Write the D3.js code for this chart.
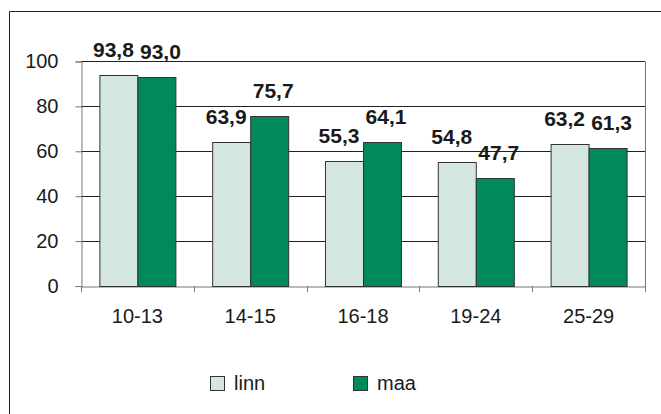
<!DOCTYPE html>
<html>
<head>
<meta charset="utf-8">
<script src="https://cdn.jsdelivr.net/npm/d3@7"></script>
<style>
  body { margin: 0; background: #fff; }
  text { font-family: Arial, "Liberation Sans", sans-serif; fill: #1a1a1a; }
</style>
</head>
<body>
<div id="chart"></div>
<script>
const ageGroups = ["10-13", "14-15", "16-18", "19-24", "25-29"];
const seriesNames = ["linn", "maa"];
const linnValues = [93.8, 63.9, 55.3, 54.8, 63.2];
const maaValues = [93.0, 75.7, 64.1, 47.7, 61.3];
const yTicks = [0, 20, 40, 60, 80, 100];

const colors = { linn: "#d3e6df", maa: "#008a5b" };

const width = 661;
const height = 414;
const plot = { left: 81, right: 645, top: 61, bottom: 285.5 };

const data = ageGroups.map((g, i) => ({ group: g, linn: linnValues[i], maa: maaValues[i] }));

const svg = d3.select("#chart").append("svg")
  .attr("width", width)
  .attr("height", height);

// outer frame (only left and top edges fall inside the picture)
svg.append("path")
  .attr("d", `M9.5,${height} V11.5 H${width}`)
  .attr("fill", "none")
  .attr("stroke", "#222");

const x0 = d3.scaleBand()
  .domain(ageGroups)
  .range([plot.left, plot.right])
  .paddingInner(0.326)
  .paddingOuter(0.163);

const x1 = d3.scaleBand()
  .domain(seriesNames)
  .range([0, x0.bandwidth()]);

const y = d3.scaleLinear()
  .domain([0, 100])
  .range([plot.bottom, plot.top]);

// gridlines
svg.append("g")
  .selectAll("line")
  .data(yTicks.filter(t => t > 0))
  .join("line")
  .attr("x1", plot.left)
  .attr("x2", plot.right)
  .attr("y1", d => Math.round(y(d)) + 0.5)
  .attr("y2", d => Math.round(y(d)) + 0.5)
  .attr("stroke", "#222");

// right border of plot area
svg.append("line")
  .attr("x1", plot.right + 0.5).attr("x2", plot.right + 0.5)
  .attr("y1", Math.round(y(100)) + 0.5).attr("y2", Math.round(y(0)) + 0.5)
  .attr("stroke", "#777");

// y axis
const yAxis = svg.append("g")
  .attr("transform", `translate(${plot.left + 0.5},0.5)`)
  .call(d3.axisLeft(y).tickValues(yTicks).tickSize(6).tickPadding(17).tickFormat(d3.format("d")));
yAxis.select(".domain").attr("stroke", "#777");
yAxis.selectAll(".tick line").attr("stroke", "#777");
yAxis.selectAll(".tick text")
  .style("font-size", "20px")
  .style("font-family", "Arial, 'Liberation Sans', sans-serif")
  .attr("fill", "#1a1a1a");

// x axis
const xAxis = svg.append("g")
  .attr("transform", `translate(0,${Math.round(y(0)) + 0.5})`)
  .call(d3.axisBottom(x0).tickSize(0).tickPadding(22));
xAxis.select(".domain").attr("stroke", "#777");
xAxis.selectAll(".tick text")
  .style("font-size", "20px")
  .style("font-family", "Arial, 'Liberation Sans', sans-serif")
  .attr("fill", "#1a1a1a");

// x ticks on category boundaries
const boundaries = ageGroups.map(g => x0(g) - x0.step() * x0.paddingOuter())
  .concat([plot.right]);
svg.append("g")
  .selectAll("line")
  .data(boundaries)
  .join("line")
  .attr("x1", d => Math.round(d) + 0.5)
  .attr("x2", d => Math.round(d) + 0.5)
  .attr("y1", Math.round(y(0)))
  .attr("y2", Math.round(y(0)) + 6)
  .attr("stroke", "#777");

// bars
const groups = svg.append("g")
  .selectAll("g")
  .data(data)
  .join("g")
  .attr("transform", d => `translate(${x0(d.group)},0)`);

groups.selectAll("rect")
  .data(d => seriesNames.map(k => ({ key: k, value: d[k] })))
  .join("rect")
  .attr("x", d => Math.round(x1(d.key)) + 0.5)
  .attr("y", d => Math.round(y(d.value)) + 0.5)
  .attr("width", x1.bandwidth())
  .attr("height", d => Math.round(y(0)) - Math.round(y(d.value)))
  .attr("fill", d => colors[d.key])
  .attr("stroke", "#333")
  .attr("stroke-width", 1);

// value labels
const nudge = { linn: -5, maa: 4 };
groups.selectAll("text.val")
  .data(d => seriesNames.map(k => ({ key: k, value: d[k] })))
  .join("text")
  .attr("class", "val")
  .attr("x", d => x1(d.key) + x1.bandwidth() / 2 + nudge[d.key])
  .attr("y", d => y(d.value) - 18)
  .attr("text-anchor", "middle")
  .style("font-size", "21px")
  .style("font-weight", "bold")
  .text(d => d.value.toFixed(1).replace(".", ","));

// legend
const legend = svg.append("g")
  .attr("transform", "translate(210,376)");

const items = legend.selectAll("g")
  .data(seriesNames)
  .join("g")
  .attr("transform", (d, i) => `translate(${i * 143},0)`);

items.append("rect")
  .attr("x", 0.5)
  .attr("y", 0.5)
  .attr("width", 14)
  .attr("height", 14)
  .attr("fill", d => colors[d])
  .attr("stroke", "#333");

items.append("text")
  .attr("x", 24)
  .attr("y", 14)
  .style("font-size", "20px")
  .text(d => d);
</script>
</body>
</html>
